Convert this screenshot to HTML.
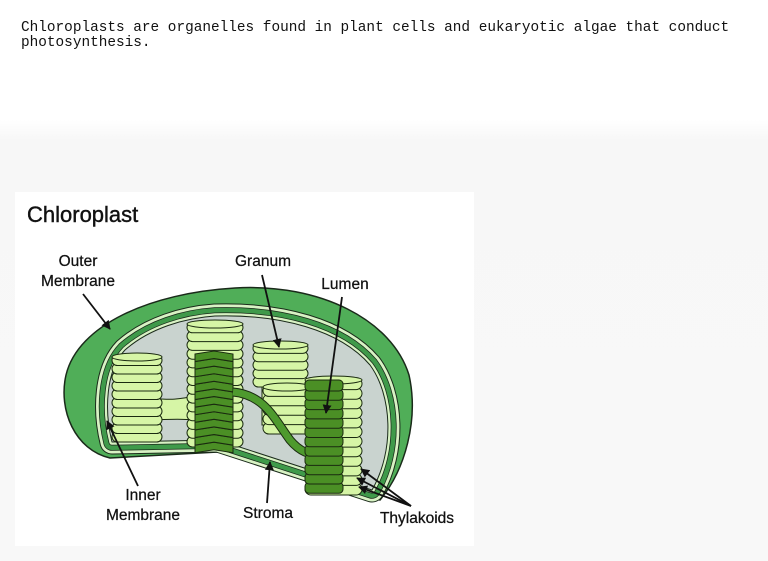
<!DOCTYPE html>
<html><head><meta charset="utf-8"><style>
html,body{margin:0;padding:0}
body{width:768px;height:561px;overflow:hidden;position:relative;background:linear-gradient(#fff 0,#fff 120px,#f7f7f7 140px,#f8f8f8 561px);}
.t{position:absolute;left:21px;top:21px;font-family:"Liberation Mono",monospace;font-size:14.4px;line-height:14.5px;color:#111;white-space:pre;}
svg{position:absolute;left:0;top:0}
</style></head><body>
<div class="t">Chloroplasts are organelles found in plant cells and eukaryotic algae that conduct
photosynthesis.</div>
<svg id="s" width="768" height="561" viewBox="0 0 768 561" font-family="Liberation Sans, sans-serif" fill="#111">
<defs><marker id="a" viewBox="0 0 10 10" refX="9" refY="5" markerWidth="5" markerHeight="5" orient="auto"><path d="M0,0 L10,5 L0,10 Z" fill="#111"/></marker></defs>
<rect x="15" y="192" width="459" height="354" fill="#fff"/>
<text x="27" y="222" font-size="22" stroke="#111" stroke-width="0.4">Chloroplast</text>
<path d="M110,458 C75,450 58,410 66,375 C78,325 150,293 235,288 C320,283 392,320 409,375 C419,420 405,470 380,500 L218,452 Z" fill="#50ae58" stroke="#1a2a1a" stroke-width="1.5"/>
<g id="mem" fill="none" stroke-linejoin="round"></g>
<g id="g"></g>
<g font-size="15.5" text-anchor="middle" stroke="#111" stroke-width="0.25">
<text x="78" y="266">Outer</text><text x="78" y="286">Membrane</text>
<text x="263" y="266">Granum</text>
<text x="345" y="289">Lumen</text>
<text x="143" y="500">Inner</text><text x="143" y="520">Membrane</text>
<text x="268" y="518">Stroma</text>
<text x="417" y="523">Thylakoids</text>
</g>
<g stroke="#111" stroke-width="1.8" marker-end="url(#a)">
<line x1="83" y1="294" x2="110" y2="329"/>
<line x1="262" y1="275" x2="279" y2="347"/>
<line x1="342" y1="297" x2="326" y2="413"/>
<line x1="138" y1="486" x2="107" y2="421"/>
<line x1="267" y1="503" x2="270" y2="462"/>
<line x1="411" y1="506" x2="361" y2="469"/>
<line x1="411" y1="506" x2="357" y2="478"/>
<line x1="411" y1="506" x2="359" y2="487"/>
</g>
</svg>
<script>
var P="M112,442 C104,410 106,370 125,350 C150,328 185,318 215,316 C280,314 340,330 370,365 C392,395 395,450 372,490 L218,440 Z";
var m=document.getElementById('mem'),h='';
[[25,'#1a2a1a'],[23,'#d8f2c4'],[17.5,'#1a2a1a'],[16,'#3f9a4a'],[7,'#1a2a1a'],[5.5,'#d8f2c4']].forEach(function(s){h+='<path d="'+P+'" stroke="'+s[1]+'" stroke-width="'+s[0]+'"/>';});
h+='<path d="'+P+'" fill="#c9d3cf" stroke="#1a2a1a" stroke-width="1"/>';
m.innerHTML=h;
var g='',L='#d6f5a6',D='#4b8f25',K='#1a2a10';
function stack(x,y0,y1,w,n){var sp=(y1-y0)/n;for(var i=n-1;i>=0;i--){var y=y0+i*sp;g+='<rect x="'+x+'" y="'+y.toFixed(1)+'" width="'+w+'" height="'+(sp+2).toFixed(1)+'" rx="'+(sp/1.6).toFixed(1)+'" ry="'+(sp/1.6).toFixed(1)+'" fill="'+L+'" stroke="'+K+'" stroke-width="1"/>';}
g+='<ellipse cx="'+(x+w/2)+'" cy="'+(y0+2)+'" rx="'+(w/2)+'" ry="4" fill="'+L+'" stroke="'+K+'" stroke-width="1"/>';}
g+='<path d="M150,398 C170,400 175,400 195,396 L195,420 C175,418 165,420 150,420 Z" fill="'+L+'" stroke="'+K+'" stroke-width="1"/>';
stack(112,355,440,50,10);
stack(187,322,445,56,14);
g+='<path d="M262,375 L262,425 L300,425 L300,375Z" fill="'+L+'" stroke="'+K+'"/>';
stack(253,343,385,55,5);
stack(263,385,432,48,5);
for(var i=12;i>=0;i--){var y=352+i*7.6;g+='<path d="M195,'+(y+2)+' L214,'+(y-1)+' L233,'+(y+2)+' L233,'+(y+9.5)+' L214,'+(y+6.5)+' L195,'+(y+9.5)+' Z" fill="'+D+'" stroke="'+K+'" stroke-width="1"/>';}
g+='<path d="M233,392 C265,395 275,420 290,440 C300,452 310,455 320,455" fill="none" stroke="'+K+'" stroke-width="9"/><path d="M233,392 C265,395 275,420 290,440 C300,452 310,455 320,455" fill="none" stroke="#4e9a2e" stroke-width="7"/>';
stack(305,378,493,57,12);
for(var i=11;i>=0;i--){var y=380+i*9.3;g+='<rect x="305" y="'+y+'" width="38" height="11" rx="4" fill="'+D+'" stroke="'+K+'" stroke-width="1"/>';}
document.getElementById('g').innerHTML=g;
</script>
</body></html>
